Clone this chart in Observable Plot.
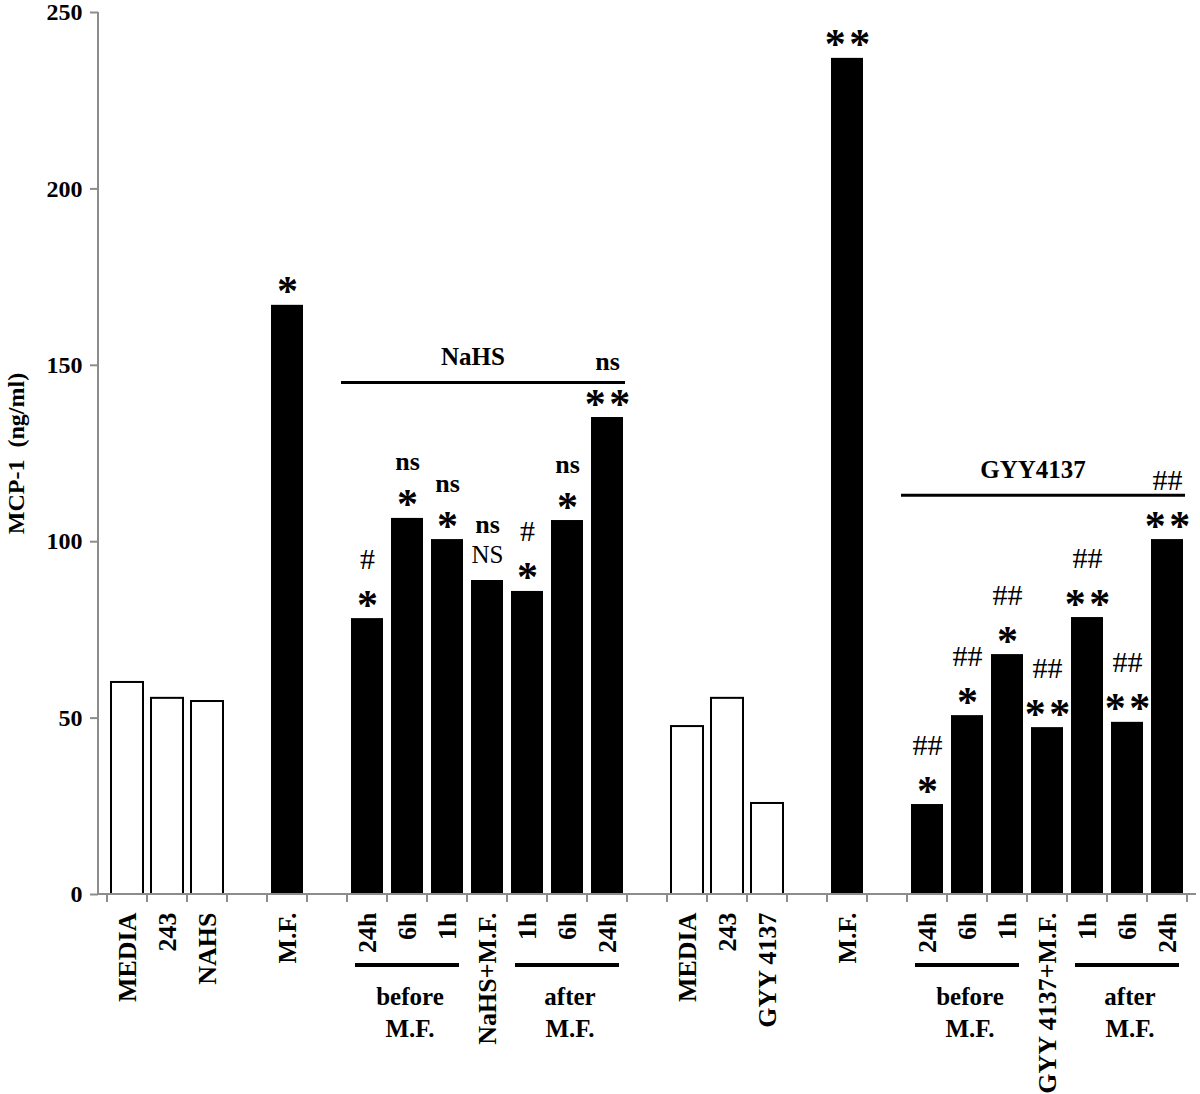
<!DOCTYPE html>
<html><head><meta charset="utf-8">
<script src="https://cdn.jsdelivr.net/npm/d3@7"></script>
<script src="https://cdn.jsdelivr.net/npm/@observablehq/plot@0.6"></script>
<style>html,body{margin:0;padding:0;background:#fff;}</style>
</head><body><div id="chart"></div>
<script>
// ---- data ----
const labels = ["MEDIA","243","NAHS","M.F.","24h","6h","1h","NaHS+M.F.","1h","6h","24h",
                "MEDIA","243","GYY 4137","M.F.","24h","6h","1h","GYY 4137+M.F.","1h","6h","24h"];
const values = [60.1,55.6,54.7,167,78.2,106.6,100.6,89,85.9,106,135.2,
                47.6,55.6,25.8,237,25.5,50.7,68,47.3,78.5,48.8,100.6];
const treated = [0,0,0,1,1,1,1,1,1,1,1, 0,0,0,1,1,1,1,1,1,1,1];
const marks1 = ["","","","*","*","*","*","NS","*","*","**", "","","","**","*","*","*","**","**","**","**"];
const marks2 = ["","","","","#","ns","ns","ns","#","ns","ns", "","","","","##","##","##","##","##","##","##"];
const gapAfter = [2,3,10,13,14];
const yTicks = [0,50,100,150,200,250];
const yLabel = "MCP-1  (ng/ml)";
const groupNames = ["NaHS","GYY4137"];
const groupLevels = [145,113];
const groupFrom = [4,15];
const groupTo = [10,21];
const subLabels = [["before","M.F."],["after","M.F."],["before","M.F."],["after","M.F."]];
const subFrom = [4,8,15,19];
const subTo = [6,10,17,21];

// ---- build ----
const bars = labels.map((label,i)=>({key:"b"+i,label,value:values[i],treated:treated[i]===1,m1:marks1[i],m2:marks2[i]}));
const domain = [];
bars.forEach((b,i)=>{domain.push(b.key); if (gapAfter.includes(i)) domain.push("g"+i);});
const labelOf = Object.fromEntries(bars.map(b=>[b.key,b.label]));
const GRAY = "#8c8c8c";
const PADI = 0.2, PADO = 0.1;

function decorations(index, scales, vals, dims) {
  const sx = scales.x, sy = scales.y;
  const step = sx(domain[1]) - sx(domain[0]);
  const bw = typeof sx.bandwidth === "function" ? sx.bandwidth() : step*(1-PADI);
  const half = (step-bw)/2;
  const y0 = sy(0);
  const g = d3.create("svg:g");
  const line = (x1,x2,y1,y2,stroke,w)=>g.append("line").attr("x1",x1).attr("x2",x2).attr("y1",y1).attr("y2",y2).attr("stroke",stroke).attr("stroke-width",w);
  // axis lines
  line(dims.marginLeft, dims.width-dims.marginRight, y0, y0, GRAY, 2);
  line(dims.marginLeft, dims.marginLeft, y0, sy(yTicks[yTicks.length-1]), GRAY, 2);
  // ticks at slot boundaries
  const bounds = domain.map(k=>sx(k)-half).concat([sx(domain[domain.length-1])+bw+half]);
  bounds.forEach(x=>line(x,x,y0,y0+8,GRAY,2));
  // group brackets above bars
  groupNames.forEach((name,i)=>{
    const x1 = sx(bars[groupFrom[i]].key)-10, x2 = sx(bars[groupTo[i]].key)+bw+2;
    const y = sy(groupLevels[i]);
    line(x1,x2,y,y,"#000",3);
    g.append("text").attr("x",(x1+x2)/2-10).attr("y",y-17).attr("text-anchor","middle")
      .attr("font-size",25).attr("font-weight","bold").text(name);
  });
  // sub brackets below axis
  subLabels.forEach((lab,i)=>{
    const x1 = sx(bars[subFrom[i]].key)+4, x2 = sx(bars[subTo[i]].key)+bw-4;
    const y = y0+71;
    line(x1,x2,y,y,"#000",4);
    lab.forEach((t,j)=>g.append("text").attr("x",(x1+x2)/2+3).attr("y",y0+111+32*j)
      .attr("text-anchor","middle").attr("font-size",25).attr("font-weight","bold").text(t));
  });
  return g.node();
}

const isStar = s => s.startsWith("*");
const chart = Plot.plot({
  width: 1200, height: 1094,
  marginLeft: 98, marginRight: 4, marginTop: 12, marginBottom: 200,
  style: {fontFamily: "'Liberation Serif','Times New Roman',serif", fontWeight: "bold", background: "#fff", color: "#000"},
  x: {type: "band", domain, paddingInner: PADI, paddingOuter: PADO},
  y: {domain: [0, 250]},
  marks: [
    Plot.barY(bars.filter(d=>!d.treated), {x:"key", y:"value", fill:"#fff", stroke:"#000", strokeWidth:2}),
    Plot.barY(bars.filter(d=>d.treated), {x:"key", y:"value", fill:"#000"}),
    Plot.text(bars.filter(d=>isStar(d.m1)), {x:"key", y:"value", text:d=>d.m1.replace("**","*\u200A*"), lineAnchor:"bottom", dy:0, fontSize:42, fontWeight:"bold"}),
    Plot.text(bars.filter(d=>d.m1 && !isStar(d.m1)), {x:"key", y:"value", text:"m1", lineAnchor:"bottom", dy:-18, fontSize:25, fontWeight:"normal"}),
    Plot.text(bars.filter(d=>d.m2==="ns"), {x:"key", y:"value", text:"m2", lineAnchor:"bottom", dy:-48, fontSize:26, fontWeight:"bold"}),
    Plot.text(bars.filter(d=>d.m2.startsWith("#")), {x:"key", y:"value", text:"m2", lineAnchor:"bottom", dy:-50, fontSize:30, fontWeight:"normal"}),
    Plot.axisY({ticks: yTicks, tickSize: 8, tickPadding: 8, fontSize: 24, stroke: GRAY, strokeWidth: 2, label: null}),
    Plot.axisX({tickSize: 0, tickPadding: 18, tickRotate: -90, fontSize: 26, tickFormat: k => labelOf[k] || "", label: null}),
    Plot.text([yLabel], {frameAnchor: "left", dx: -82, rotate: -90, textAnchor: "middle", text: d=>d, fontSize: 24, fontWeight: "bold"}),
    decorations
  ]
});
document.getElementById("chart").appendChild(chart);
</script>
</body></html>
